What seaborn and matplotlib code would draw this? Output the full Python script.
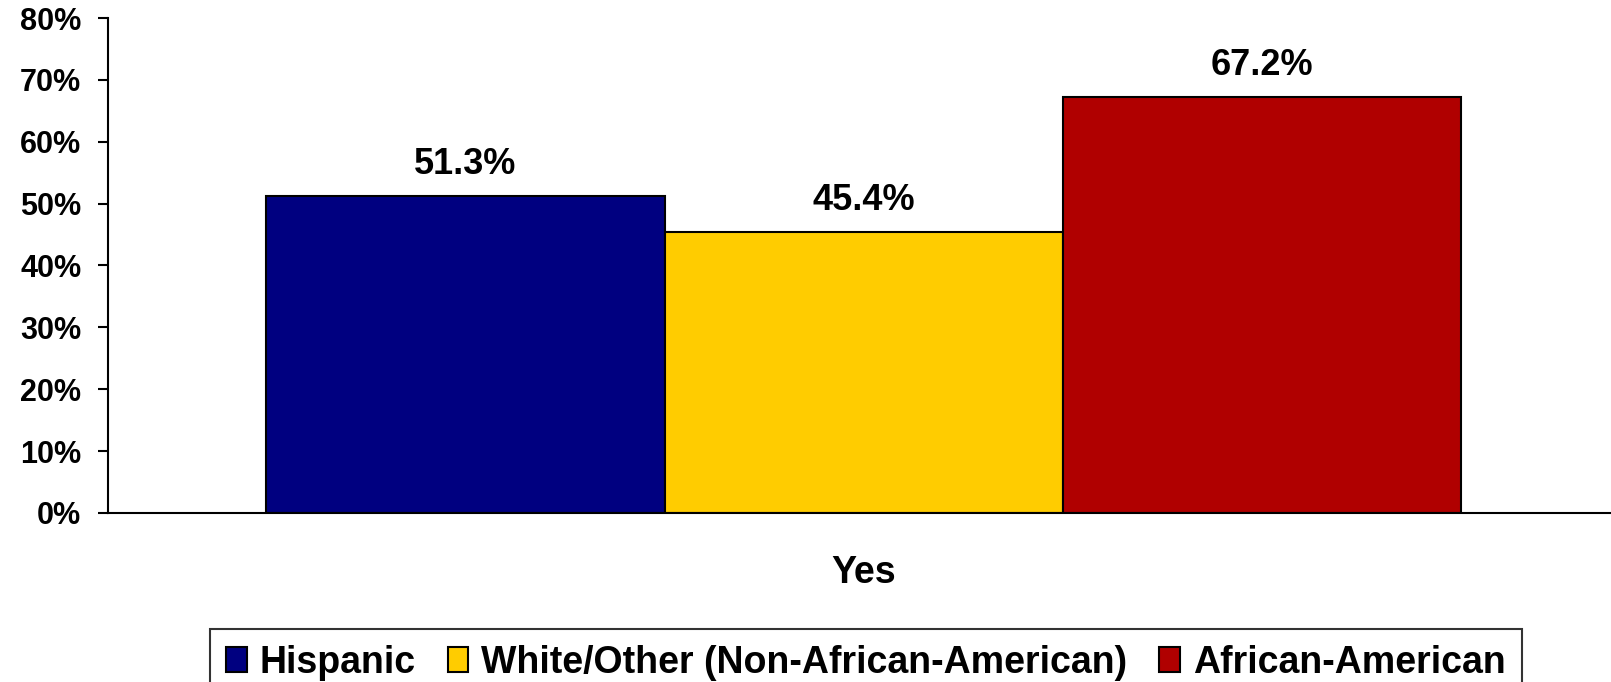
import pandas as pd
import matplotlib.pyplot as plt
import seaborn as sns
from matplotlib.ticker import FuncFormatter

# chart data
categories = ["Yes"]
groups = ["Hispanic", "White/Other (Non-African-American)", "African-American"]
values = [51.3, 45.4, 67.2]
colors = ["#000080", "#FFCC00", "#B00000"]

sns.set_style("white")
plt.rcParams['font.family'] = ['Liberation Sans', 'DejaVu Sans']
plt.rcParams['font.weight'] = 'bold'
plt.rcParams['text.color'] = 'black'
plt.rcParams['xtick.color'] = 'black'
plt.rcParams['ytick.color'] = 'black'

df = pd.DataFrame({"answer": categories * len(groups), "group": groups, "pct": values})

fig = plt.figure(figsize=(16.11, 6.82), dpi=100)
ax = fig.add_axes([0.0668, 0.248, 0.9332, 0.7256])

sns.barplot(data=df, x="answer", y="pct", hue="group", hue_order=groups,
            palette=dict(zip(groups, colors)), width=0.795, saturation=1,
            edgecolor="black", linewidth=1.5, ax=ax)

# value labels above bars
for bar, v in zip(ax.patches, values):
    ax.annotate(f"{v:.1f}%", (bar.get_x() + bar.get_width() / 2, bar.get_height()),
                xytext=(0, 10), textcoords="offset points", ha="center", va="bottom",
                fontsize=26, fontweight="bold", color="black")

ax.set_ylim(0, 80)
ax.set_xlim(-0.503, 0.497)
ax.set_yticks(range(0, 81, 10))
ax.yaxis.set_major_formatter(FuncFormatter(lambda y, _: f"{y:.0f}%"))
ax.tick_params(axis="y", length=7, width=1.5, labelsize=22, pad=12, left=True)
ax.tick_params(axis="x", length=0, labelsize=27, pad=30)
ax.set_xlabel("")
ax.set_ylabel("")
for t in ax.get_xticklabels() + ax.get_yticklabels():
    t.set_fontweight("bold")

sns.despine(ax=ax)
for s in ["left", "bottom"]:
    ax.spines[s].set_color("black")
    ax.spines[s].set_linewidth(1.5)

ax.legend_.remove()
handles = [plt.Rectangle((0, 0), 1, 1, facecolor=c, edgecolor="black", linewidth=1.5) for c in colors]
leg = ax.legend(handles, groups, loc="upper center", bbox_to_anchor=(0.5375, 0.078),
                bbox_transform=fig.transFigure, ncol=3, frameon=True, fancybox=False,
                borderaxespad=0, prop={"size": 27, "weight": "bold"},
                handlelength=0.55, handleheight=0.65, handletextpad=0.35,
                columnspacing=0.85, borderpad=0.42)
leg.get_frame().set_edgecolor("black")
leg.get_frame().set_linewidth(1.5)

fig.savefig("out.png", dpi=100)
